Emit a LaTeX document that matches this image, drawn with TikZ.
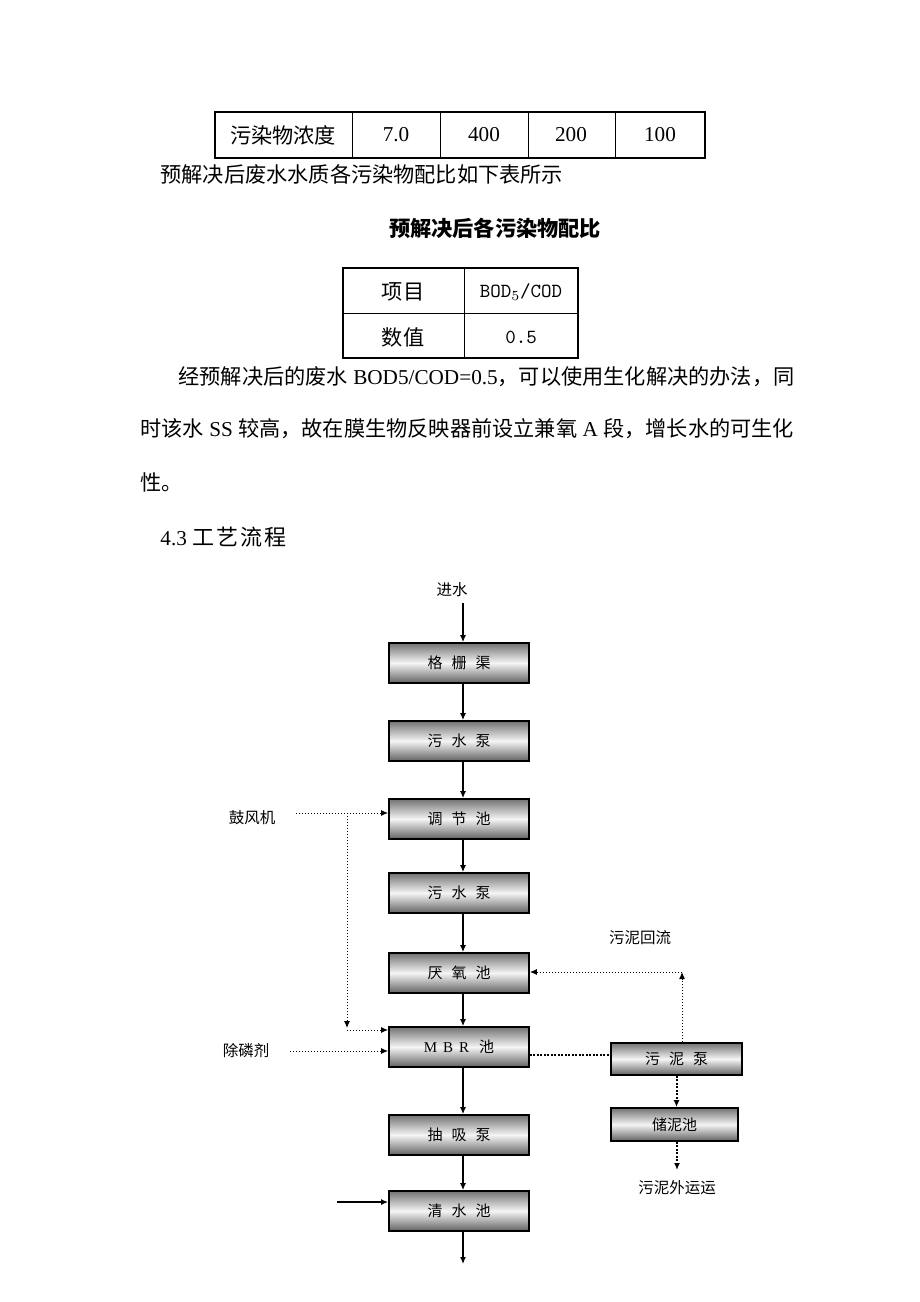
\documentclass[tikz,border=0pt]{standalone}
\usepackage{fontspec}
\setmainfont{Liberation Serif}
\newfontfamily\cjk{Noto Sans CJK SC}
\usetikzlibrary{arrows.meta}
\newcommand\boxgap{\hspace{4.5pt}}
\tikzset{
    unit/.style={draw=black, line width=0.9pt, top color=black!55, bottom color=black!62, middle color=white!96!black, minimum width=70pt, minimum height=20pt, inner sep=0pt, font=\cjk\fontsize{7.5}{9}\selectfont},
    flow/.style={line width=0.65pt, -{Latex[length=3.5pt,width=3pt]}},
    dose/.style={line width=0.5pt, dash pattern=on 0.5pt off 1pt, -{Latex[length=3.5pt,width=3pt]}},
    sludge/.style={line width=1pt, dash pattern=on 1pt off 0.75pt},
    lbl/.style={font=\cjk\fontsize{7.75}{9}\selectfont, inner sep=0pt},
    body/.style={font=\fontsize{10.6}{12}\selectfont, inner sep=0pt},
    frame/.style={line width=1.2pt},
    rule/.style={line width=0.5pt}
}
\begin{document}
\begin{tikzpicture}[x=0.5pt, y=-0.5pt]
    \path[use as bounding box] (0,0) rectangle (920,1302);

    \draw[rule] (352,112) -- (352,158);
    \draw[rule] (440,112) -- (440,158);
    \draw[rule] (528,112) -- (528,158);
    \draw[rule] (615,112) -- (615,158);
    \draw[frame] (215,112) rectangle (705,158);
    \node[body] (c11) at (283,135) {\cjk 污染物浓度};
    \node[body] (c12) at (396,135) {7.0};
    \node[body] (c13) at (484,135) {400};
    \node[body] (c14) at (571,135) {200};
    \node[body] (c15) at (660,135) {100};

    \node[body, anchor=west] (note) at (160,174) {\cjk 预解决后废水水质各污染物配比如下表所示};
    \node[body] (cap) at (495,228) {\cjk\bfseries 预解决后各污染物配比};

    \draw[rule] (343,313) -- (578,313);
    \draw[rule] (464,268) -- (464,358);
    \draw[frame] (343,268) rectangle (578,358);
    \node[body] (r11) at (403,292) {\cjk 项目};
    \node[body] (r12) at (521,292) {\ttfamily\fontsize{10}{12}\selectfont BOD$_5$/COD};
    \node[body] (r21) at (403,337) {\cjk 数值};
    \node[body] (r22) at (521,337) {\ttfamily\fontsize{10}{12}\selectfont 0.5};

    \node[body, anchor=west] (l1) at (178,377) {{\cjk 经预解决后的废水} BOD5/COD=0.5{\cjk ，可以使用生化解决的办法，同}};
    \node[body, anchor=west] (l2) at (140,429) {{\cjk 时该水} SS {\cjk 较高，故在膜生物反映器前设立兼氧} A {\cjk 段，增长水的可生化}};
    \node[body, anchor=west] (l3) at (140,482) {\cjk 性。};
    \node[body, anchor=west] (sec) at (160,537) {4.3 {\cjk\fontsize{11}{12}\selectfont 工\hspace{1pt}艺\hspace{1pt}流\hspace{1pt}程}};

    \node[lbl] (in) at (452,590) {进水};
    \coordinate (in0) at (463,603);
    \node[unit] (grid) at (459,663) {格\boxgap 栅\boxgap 渠};
    \node[unit] (pump1) at (459,741) {污\boxgap 水\boxgap 泵};
    \node[unit] (equal) at (459,819) {调\boxgap 节\boxgap 池};
    \node[unit] (pump2) at (459,893) {污\boxgap 水\boxgap 泵};
    \node[unit] (anox) at (459,973) {厌\boxgap 氧\boxgap 池};
    \node[unit] (mbr) at (459,1047) {{\rmfamily M\hspace{3pt}B\hspace{3pt}R}\hspace{5pt}池};
    \node[unit] (suck) at (459,1135) {抽\boxgap 吸\boxgap 泵};
    \node[unit] (clear) at (459,1211) {清\boxgap 水\boxgap 池};
    \coordinate (out) at (463,1264);

    \draw[flow] (in0) -- (in0 |- grid.north);
    \draw[flow] ([xshift=2pt]grid.south) -- ([xshift=2pt]pump1.north);
    \draw[flow] ([xshift=2pt]pump1.south) -- ([xshift=2pt]equal.north);
    \draw[flow] ([xshift=2pt]equal.south) -- ([xshift=2pt]pump2.north);
    \draw[flow] ([xshift=2pt]pump2.south) -- ([xshift=2pt]anox.north);
    \draw[flow] ([xshift=2pt]anox.south) -- ([xshift=2pt]mbr.north);
    \draw[flow] ([xshift=2pt]mbr.south) -- ([xshift=2pt]suck.north);
    \draw[flow] ([xshift=2pt]suck.south) -- ([xshift=2pt]clear.north);
    \draw[flow] ([xshift=2pt]clear.south) -- (out);

    \coordinate (cin) at (337,1202);
    \draw[flow] (cin) -- (cin -| clear.west);

    \node[lbl] (blower) at (252,818) {鼓风机};
    \coordinate (air) at (296,813);
    \coordinate (airv) at (347,813);
    \coordinate (airb) at (347,1028);
    \coordinate (airm) at (347,1030);
    \draw[dose] (air) -- (air -| equal.west);
    \draw[dose] (airv) -- (airb);
    \draw[dose] (airm) -- (airm -| mbr.west);

    \node[lbl] (dephos) at (246,1051) {除磷剂};
    \coordinate (dp) at (290,1051);
    \draw[dose] (dp) -- (dp -| mbr.west);

    \node[unit, minimum width=65.5pt, minimum height=16pt] (spump) at (676.5,1059) {污\boxgap 泥\boxgap 泵};
    \node[unit, minimum width=63.5pt, minimum height=16.5pt] (store) at (674.5,1124.5) {储泥池};
    \draw[sludge] ([yshift=-4pt]mbr.east) -- ([yshift=-4pt]mbr.east -| spump.west);
    \draw[sludge, -{Latex[length=3.5pt,width=3pt]}] (spump.south) -- (spump.south |- store.north);
    \coordinate (haul) at (677,1170);
    \draw[sludge, -{Latex[length=3.5pt,width=3pt]}] (store.south -| haul) -- (haul);
    \node[lbl] (haullbl) at (677,1188) {污泥外运运};

    \node[lbl] (retlbl) at (640,938) {污泥回流};
    \coordinate (ret) at (682,972);
    \draw[dose] (spump.north -| ret) -- (ret);
    \draw[dose] (ret) -- (ret -| anox.east);
\end{tikzpicture}
\end{document}
